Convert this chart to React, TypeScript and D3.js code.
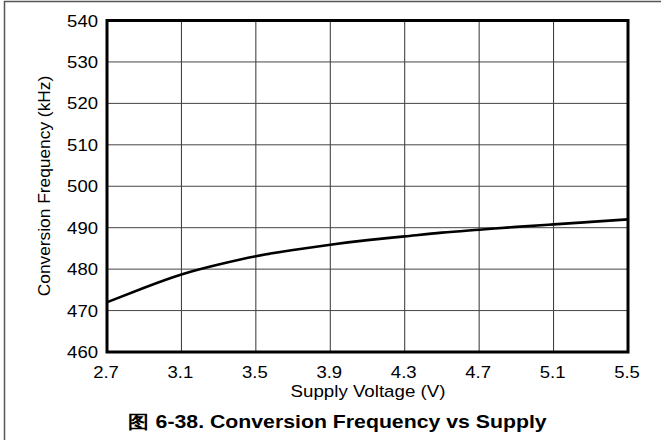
import React from "react";
import * as d3 from "d3";

const voltage = [2.7, 2.9, 3.1, 3.3, 3.5, 3.7, 3.9, 4.1, 4.3, 4.5, 4.7, 4.9, 5.1, 5.3, 5.5];
const frequency = [472.0, 475.5, 478.7, 481.1, 483.1, 484.6, 485.9, 487.0, 487.9, 488.8, 489.5, 490.2, 490.8, 491.4, 492.0];
const xTicks = [2.7, 3.1, 3.5, 3.9, 4.3, 4.7, 5.1, 5.5];
const yTicks = [460, 470, 480, 490, 500, 510, 520, 530, 540];
const xLabel = "Supply Voltage (V)";
const yLabel = "Conversion Frequency (kHz)";
const title = "图 6-38. Conversion Frequency vs Supply";

export default function App() {
  const W = 661, H = 440;
  const L = 107, R = 628, T = 20.5, B = 352;
  const x = d3.scaleLinear().domain([2.7, 5.5]).range([L, R]);
  const y = d3.scaleLinear().domain([460, 540]).range([B, T]);
  const line = d3.line<number>().x((_, i) => x(voltage[i])).y((d) => y(d)).curve(d3.curveNatural);
  const font = "'Liberation Sans', Arial, sans-serif";
  const sx = 1.09;
  return (
    <svg width={W} height={H} style={{ position: "absolute", left: 0, top: 0 }} fontFamily={font}>
      <rect x={0} y={0} width={W} height={H} fill="#fff" />
      <rect x={4.5} y={1.5} width={W + 10} height={H + 10} fill="none" stroke="#555" strokeWidth={1.5} />
      {xTicks.map((t) => (
        <line key={"gx" + t} x1={x(t)} x2={x(t)} y1={T} y2={B} stroke="#333" strokeWidth={1} />
      ))}
      {yTicks.map((t) => (
        <line key={"gy" + t} x1={L} x2={R} y1={y(t)} y2={y(t)} stroke="#444" strokeWidth={1} />
      ))}
      <path d={line(frequency) || ""} fill="none" stroke="#000" strokeWidth={2.6} />
      <rect x={L} y={T} width={R - L} height={B - T} fill="none" stroke="#000" strokeWidth={3} />
      {yTicks.map((t) => (
        <text key={"ty" + t} transform={`translate(98, ${y(t)}) scale(${sx},1)`} dy="0.36em" textAnchor="end" fontSize={17} fill="#000">
          {t}
        </text>
      ))}
      {xTicks.map((t) => (
        <text key={"tx" + t} transform={`translate(${x(t) - 1}, 377.5) scale(${sx},1)`} textAnchor="middle" fontSize={17} fill="#000">
          {t.toFixed(1)}
        </text>
      ))}
      <text transform={`translate(${(L + R) / 2 + 0.5}, 397) scale(1.1,1)`} textAnchor="middle" fontSize={17} fill="#000">
        {xLabel}
      </text>
      <text transform={`translate(50, 186) rotate(-90) scale(1.02,1)`} textAnchor="middle" fontSize={17} fill="#000">
        {yLabel}
      </text>
      <text transform={`translate(337.5, 428) scale(1.15,1)`} textAnchor="middle" fontSize={18.5} fontWeight="bold" fill="#000">
        {title}
      </text>
    </svg>
  );
}
